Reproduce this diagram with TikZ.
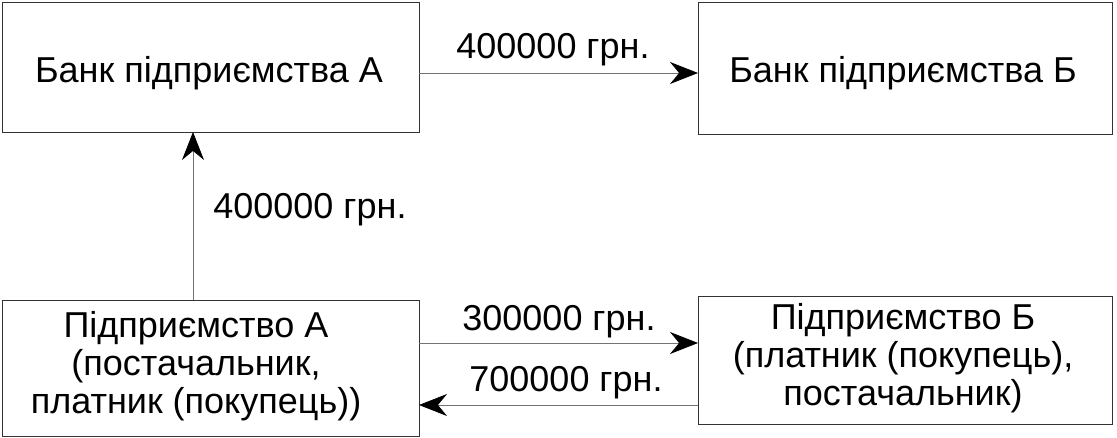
\documentclass[tikz,border=0pt]{standalone}
\usepackage{fontspec}
\setmainfont{Liberation Sans}
\usetikzlibrary{arrows.meta}
\begin{document}
\begin{tikzpicture}[x=1pt,y=-1pt,
  box/.style={draw=black!80,line width=0.8pt},
  txt/.style={font=\fontsize{36}{38}\selectfont,align=center,inner sep=0},
  con/.style={draw=black!55,line width=0.8pt,-{Stealth[length=28pt,width=22pt,color=black]}}]
\useasboundingbox (0,0) rectangle (1117,438);
\draw[box] (2,2) rectangle (419,132);
\node[txt] (ba) at (209,73) {Банк підприємства А};
\draw[box] (698,2) rectangle (1112,134);
\node[txt] (bb) at (903,73) {Банк підприємства Б};
\draw[box] (2,300) rectangle (419,436);
\node[txt] (ea) at (196,366) {Підприємство А\\(постачальник,\\платник (покупець))};
\draw[box] (698,296) rectangle (1112,424);
\node[txt] (eb) at (903,358) {Підприємство Б\\(платник (покупець),\\постачальник)};
\coordinate (a1) at (419,73); \coordinate (a2) at (698,73);
\coordinate (v1) at (193,300); \coordinate (v2) at (193,132);
\coordinate (p1) at (419,343); \coordinate (p2) at (698,343);
\coordinate (q1) at (698,405); \coordinate (q2) at (419,405);
\draw[con] (a1) -- (a2);
\draw[con] (v1) -- (v2);
\draw[con] (p1) -- (p2);
\draw[con] (q1) -- (q2);
\node[txt] (l1) at (553,50) {400000 грн.};
\node[txt] (l2) at (310,210) {400000 грн.};
\node[txt] (l3) at (559,322) {300000 грн.};
\node[txt] (l4) at (566,383) {700000 грн.};
\end{tikzpicture}
\end{document}
